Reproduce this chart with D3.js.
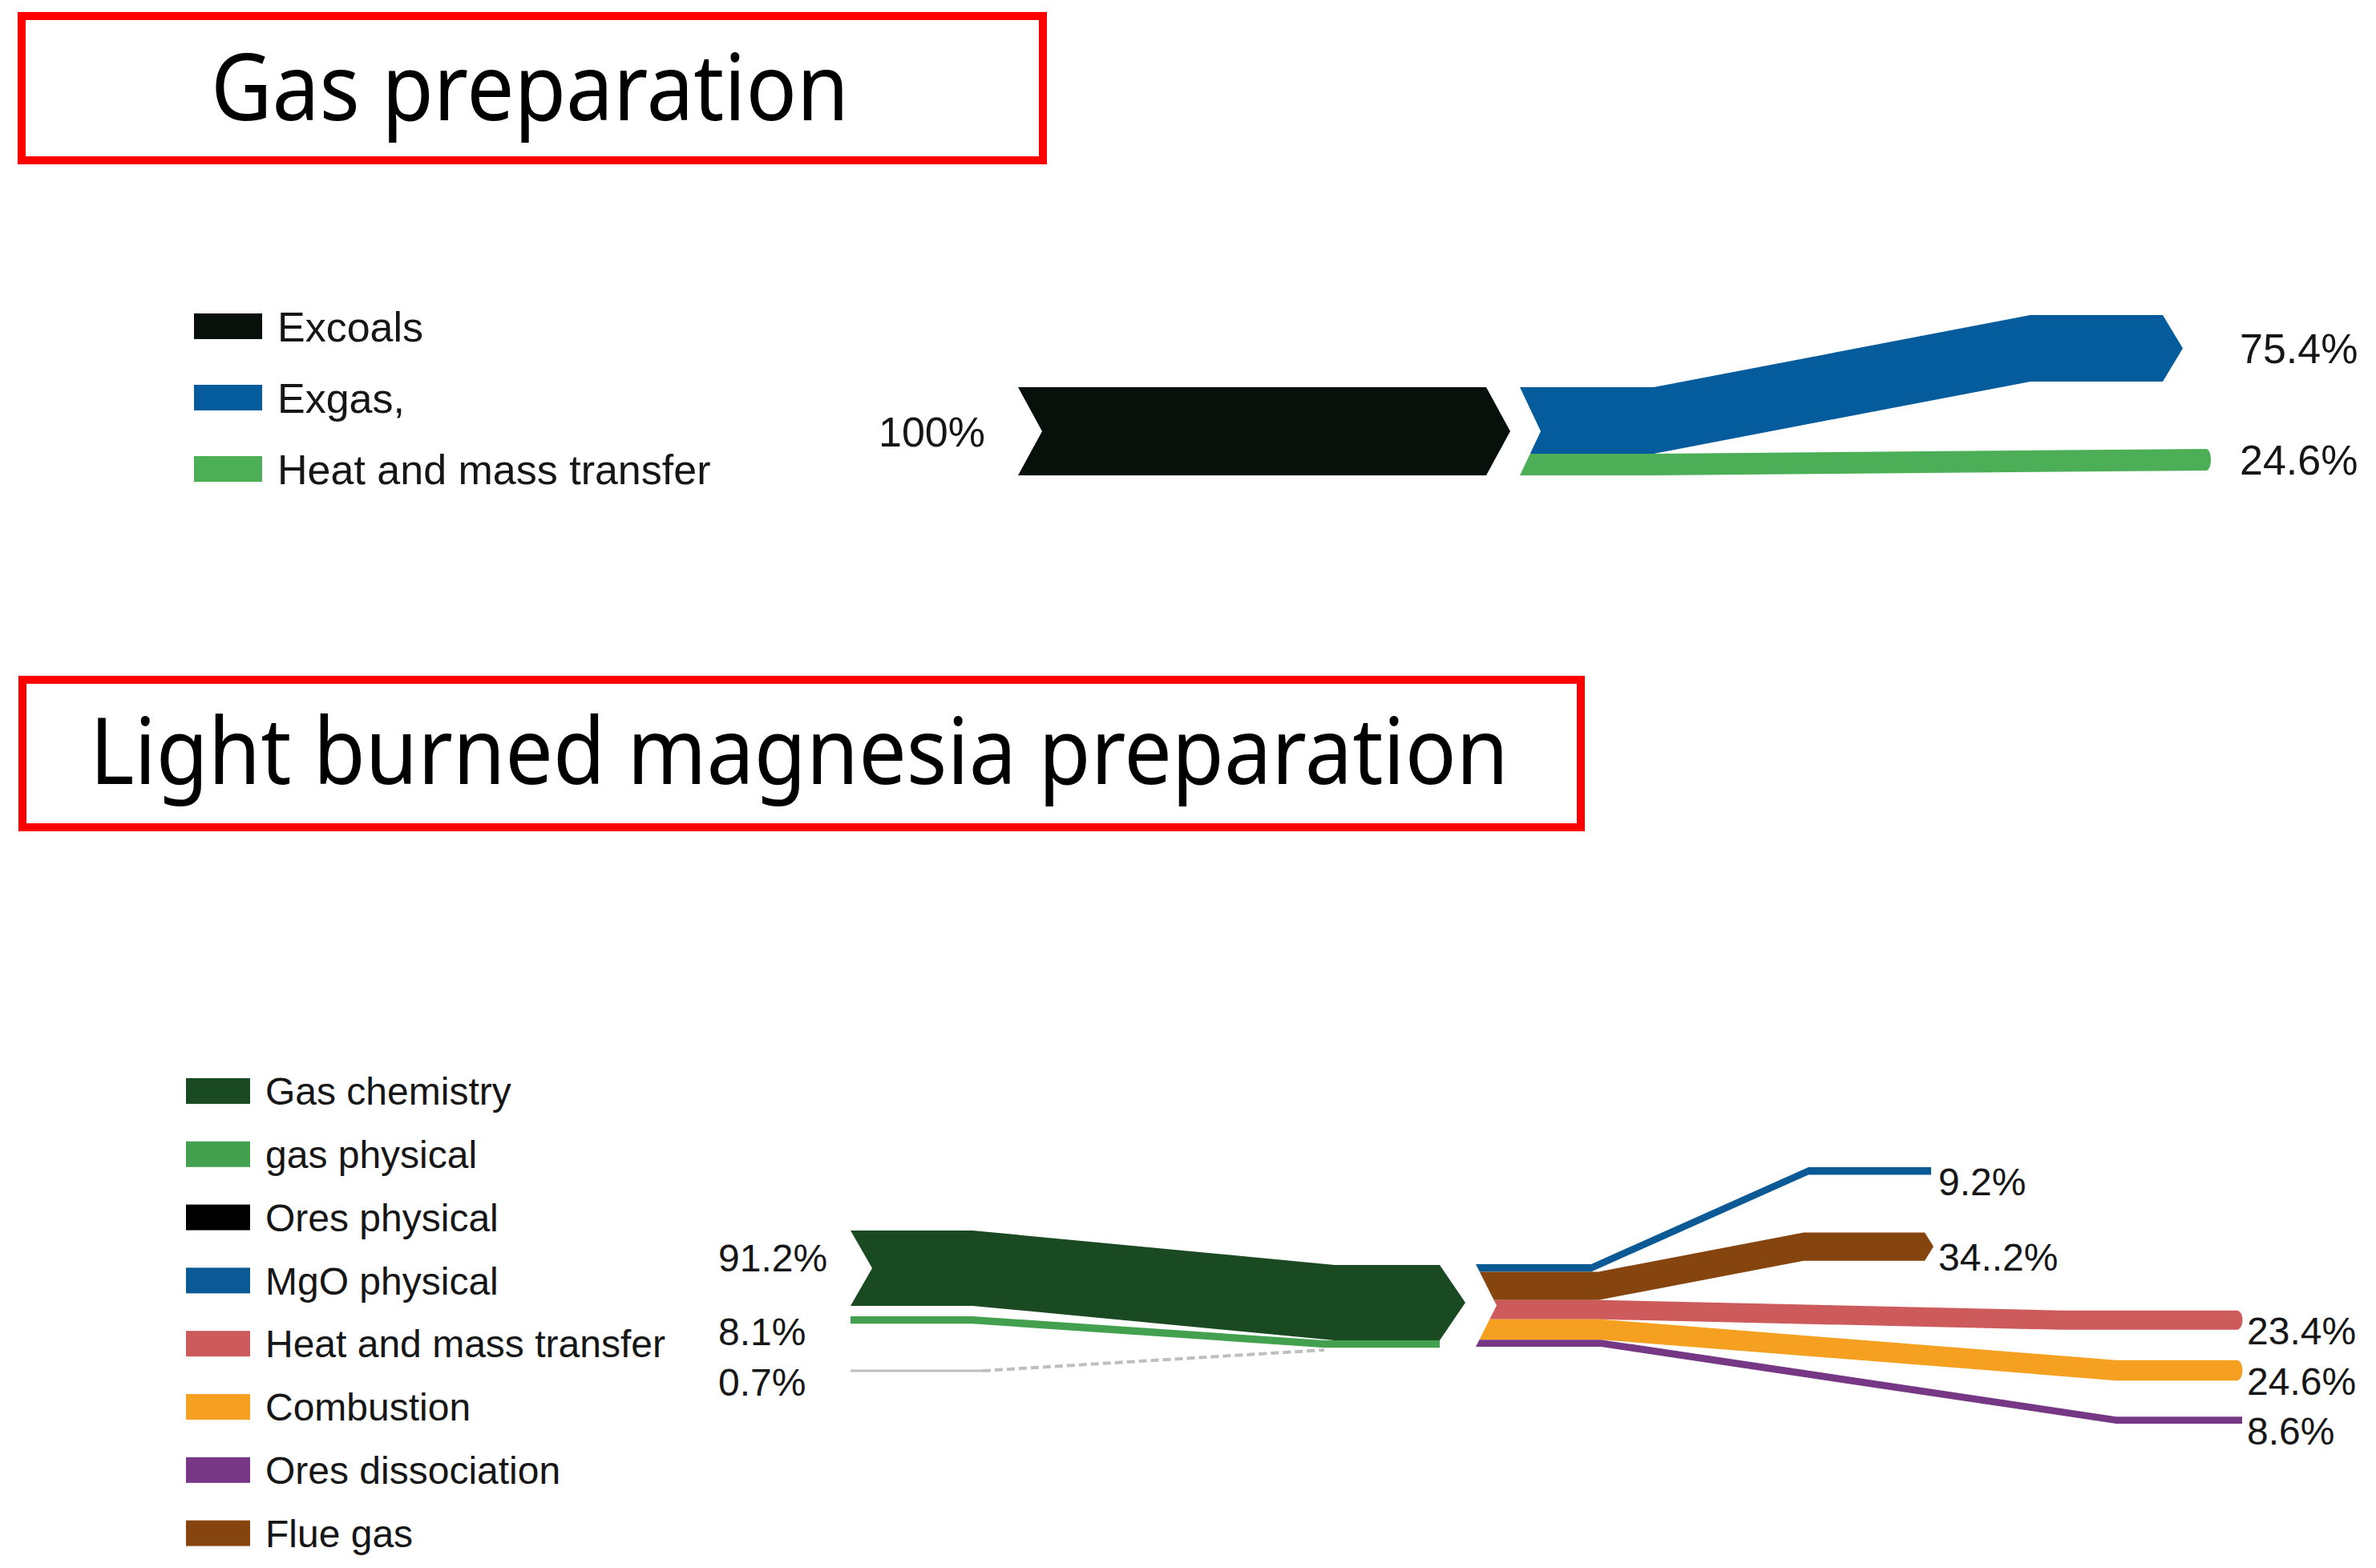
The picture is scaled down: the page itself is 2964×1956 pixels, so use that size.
<!DOCTYPE html>
<html>
<head>
<meta charset="utf-8">
<script src="https://cdn.jsdelivr.net/npm/d3@7"></script>
<style>
  body { margin: 0; background: #fff; }
  svg text { font-family: "Liberation Sans", Arial, sans-serif; fill: #161616; }
  svg text.title { font-family: "Noto Sans", "Open Sans", sans-serif; fill: #000; }
</style>
</head>
<body>
<svg id="chart" width="2964" height="1956"></svg>
<script>

// ---- Gas preparation ----
var gasLegend = ["Excoals", "Exgas,", "Heat and mass transfer"];
var gasLegendColors = ["#07100a", "#045c9c", "#4caf57"];
var gasInValues = [100];
var gasInLabels = ["100%"];
var gasOutValues = [75.4, 24.6];
var gasOutLabels = ["75.4%", "24.6%"];

// ---- Light burned magnesia preparation ----
var mgLegend = ["Gas chemistry", "gas physical", "Ores physical", "MgO physical",
  "Heat and mass transfer", "Combustion", "Ores dissociation", "Flue gas"];
var mgLegendColors = ["#1a4a21", "#43a04e", "#000000", "#0b5a96",
  "#cd5b5b", "#f5a021", "#763784", "#86440f"];
var mgInValues = [91.2, 8.1, 0.7];          // gas chemistry, gas physical, ores physical
var mgInLabels = ["91.2%", "8.1%", "0.7%"];
var mgOutValues = [9.2, 34.2, 23.4, 24.6, 8.6]; // MgO, flue gas, heat, combustion, dissociation
var mgOutLabels = ["9.2%", "34..2%", "23.4%", "24.6%", "8.6%"];

var titles = ["Gas preparation", "Light burned magnesia preparation"];

var svg = d3.select("#chart");

// band: route = [[x, shift], ...] ; top = y where band starts ; h = thickness
// notch = {x0, top, bottom, depth} shared chevron at the left, end = "tip" | "round" | "flat"
function bandPath(route, top, h, notch, end, endSize) {
  var p = d3.path();
  var leftX = function (y) {
    if (!notch) return route[0][0];
    var mid = (notch.top + notch.bottom) / 2, half = (notch.bottom - notch.top) / 2;
    return notch.x0 + notch.depth * (1 - Math.abs(y - mid) / half);
  };
  var t0 = top + route[0][1];
  p.moveTo(leftX(t0), t0);
  route.slice(1).forEach(function (d) { p.lineTo(d[0], top + d[1]); });
  var last = route[route.length - 1], ly = top + last[1];
  if (end == "tip") {
    p.lineTo(last[0] + endSize, ly + h / 2);
    p.lineTo(last[0], ly + h);
  } else if (end == "round") {
    p.bezierCurveTo(last[0] + endSize, ly, last[0] + endSize, ly + h, last[0], ly + h);
  } else {
    p.lineTo(last[0], ly + h);
  }
  route.slice(1, -1).reverse().forEach(function (d) { p.lineTo(d[0], top + d[1] + h); });
  var b0 = t0 + h;
  p.lineTo(leftX(b0), b0);
  if (notch) {
    var mid = (notch.top + notch.bottom) / 2;
    if (mid > t0 && mid < b0) p.lineTo(notch.x0 + notch.depth, mid);
  }
  p.closePath();
  return p.toString();
}

// titles in red boxes
var titleBoxes = [{x: 27, y: 20, w: 1274, h: 180, tw: 796}, {x: 28, y: 848, w: 1944, h: 184, tw: 1770}];
titleBoxes.forEach(function (b, i) {
  svg.append("rect")
    .attr("x", b.x).attr("y", b.y).attr("width", b.w).attr("height", b.h)
    .attr("fill", "none").attr("stroke", "#ff0000").attr("stroke-width", 10);
  svg.append("text")
    .attr("class", "title")
    .attr("x", b.x + b.w / 2 - 3).attr("y", b.y + 130)
    .attr("text-anchor", "middle")
    .attr("font-size", 116)
    .attr("textLength", b.tw).attr("lengthAdjust", "spacingAndGlyphs")
    .text(titles[i]);
});

// legends
function legend(names, colors, x, y0, step, sw, sh, fs) {
  var g = svg.append("g");
  var items = g.selectAll("g").data(names).enter().append("g")
    .attr("transform", function (d, i) { return "translate(" + x + "," + (y0 + i * step) + ")"; });
  items.append("rect")
    .attr("x", 0).attr("y", -sh / 2).attr("width", sw).attr("height", sh)
    .attr("fill", function (d, i) { return colors[i]; });
  items.append("text")
    .attr("x", sw + 19).attr("y", 0).attr("dy", "0.36em")
    .attr("font-size", fs)
    .text(function (d) { return d; });
}
legend(gasLegend, gasLegendColors, 242, 407, 89, 85, 32, 52);
legend(mgLegend, mgLegendColors, 232, 1361, 78.8, 80, 32, 48);

// ---- top sankey ----
var yGas = d3.scaleLinear().domain([0, 100]).range([0, 110]);
var gTop = svg.append("g");
var gasTop = 483;

gTop.append("path")
  .attr("d", bandPath([[1270, 0], [1854, 0]], gasTop, yGas(gasInValues[0]),
    {x0: 1270, top: gasTop, bottom: gasTop + yGas(gasInValues[0]), depth: 30}, "tip", 30))
  .attr("fill", gasLegendColors[0]);

var gasRoutes = [
  {route: [[1896, 0], [2063, 0], [2533, -90], [2698, -90]], end: "tip", size: 25},
  {route: [[1896, 0], [2063, 0], [2752, -6]], end: "round", size: 8}
];
var gasNotch = {x0: 1896, top: gasTop, bottom: gasTop + yGas(d3.sum(gasOutValues)), depth: 26};
var acc = 0;
gasOutValues.forEach(function (v, i) {
  var r = gasRoutes[i];
  gTop.append("path")
    .attr("d", bandPath(r.route, gasTop + yGas(acc), yGas(v), gasNotch, r.end, r.size))
    .attr("fill", gasLegendColors[i + 1]);
  var last = r.route[r.route.length - 1];
  gTop.append("text")
    .attr("x", 2794).attr("y", gasTop + yGas(acc) + last[1] + yGas(v) / 2)
    .attr("dy", "0.36em").attr("font-size", 52)
    .text(gasOutLabels[i]);
  acc += v;
});
gTop.append("text")
  .attr("x", 1096).attr("y", gasTop + yGas(gasInValues[0]) / 2)
  .attr("dy", "0.36em").attr("font-size", 52)
  .text(gasInLabels[0]);

// ---- bottom sankey ----
var yMg = d3.scaleLinear().domain([0, 100]).range([0, 103]);
var gBot = svg.append("g");

// inputs: gas chemistry (chevron), gas physical (thin band), ores physical (grey line)
var inTop = 1535;
var hChem = yMg(mgInValues[0]);
gBot.append("path")
  .attr("d", bandPath([[1061, 0], [1213, 0], [1665, 43], [1796, 43]], inTop, hChem,
    {x0: 1061, top: inTop, bottom: inTop + hChem, depth: 27}, "tip", 32))
  .attr("fill", mgLegendColors[0]);

var physTop = inTop + hChem + 13;
gBot.append("path")
  .attr("d", bandPath([[1061, 0], [1213, 0], [1653, 30], [1796, 30]], physTop, yMg(mgInValues[1]) + 1, null, "flat"))
  .attr("fill", mgLegendColors[1]);

var oreY = 1710;
gBot.append("line")
  .attr("x1", 1061).attr("y1", oreY).attr("x2", 1226).attr("y2", oreY)
  .attr("stroke", "#bdbdbd").attr("stroke-width", Math.max(3, yMg(mgInValues[2]) * 4));
gBot.append("line")
  .attr("x1", 1226).attr("y1", oreY).attr("x2", 1652).attr("y2", oreY - 26)
  .attr("stroke", "#bfbfbf").attr("stroke-width", 4).attr("stroke-dasharray", "10,5");

var inLabelY = [inTop + hChem / 2 - 13, physTop + yMg(mgInValues[1]) / 2 + 15, oreY + 14];
mgInLabels.forEach(function (s, i) {
  gBot.append("text")
    .attr("x", 896).attr("y", inLabelY[i])
    .attr("dy", "0.36em").attr("font-size", 48)
    .text(s);
});

// outputs
var outTop = 1577;
var mgRoutes = [
  {route: [[1841, 0], [1985, 0], [2256, -121], [2409, -121]], end: "flat", color: 3},
  {route: [[1841, 0], [1994, 0], [2250, -49], [2401, -49]], end: "tip", size: 11, color: 7},
  {route: [[1841, 0], [1997, 0], [2570, 13], [2790, 13]], end: "round", size: 10, color: 4},
  {route: [[1841, 0], [1997, 0], [2640, 51], [2790, 51]], end: "round", size: 10, color: 5},
  {route: [[1841, 0], [1997, 0], [2640, 96], [2797, 96]], end: "flat", color: 6}
];
var mgNotch = {x0: 1841, top: outTop, bottom: outTop + yMg(d3.sum(mgOutValues)), depth: 26};
var labelX = [2418, 2418, 2803, 2803, 2803];
acc = 0;
mgOutValues.forEach(function (v, i) {
  var r = mgRoutes[i];
  var t = outTop + yMg(acc);
  gBot.append("path")
    .attr("d", bandPath(r.route, t, yMg(v), mgNotch, r.end, r.size))
    .attr("fill", mgLegendColors[r.color]);
  var last = r.route[r.route.length - 1];
  gBot.append("text")
    .attr("x", labelX[i]).attr("y", t + last[1] + yMg(v) / 2 + 13)
    .attr("dy", "0.36em").attr("font-size", 48)
    .text(mgOutLabels[i]);
  acc += v;
});

</script>
</body>
</html>
